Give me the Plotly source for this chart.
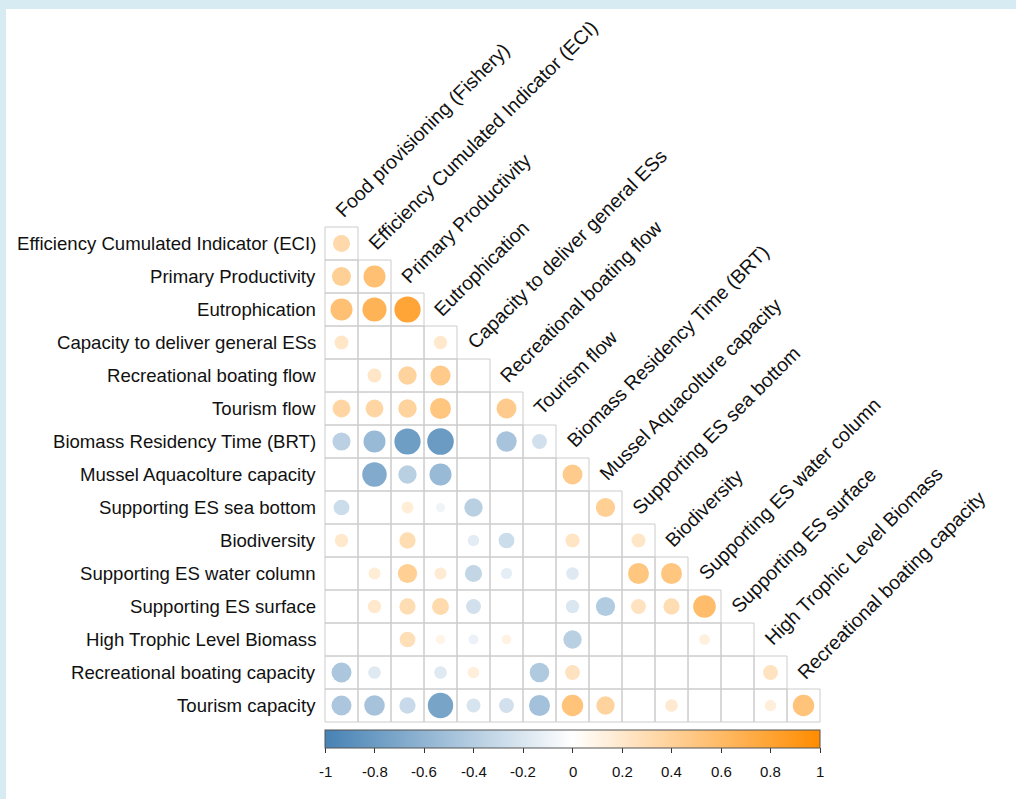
import math
import plotly.graph_objects as go

# Variable names (rows start at the 2nd variable, columns end at the 15th)
variables = [
    "Food provisioning (Fishery)",
    "Efficiency Cumulated Indicator (ECI)",
    "Primary Productivity",
    "Eutrophication",
    "Capacity to deliver general ESs",
    "Recreational boating flow",
    "Tourism flow",
    "Biomass Residency Time (BRT)",
    "Mussel Aquacolture capacity",
    "Supporting ES sea bottom",
    "Biodiversity",
    "Supporting ES water column",
    "Supporting ES surface",
    "High Trophic Level Biomass",
    "Recreational boating capacity",
    "Tourism capacity",
]

# Lower-triangle correlations, one list per row (None = not shown)
r_eci = [0.33]
r_pp = [0.41, 0.55]
r_eutro = [0.55, 0.66, 0.78]
r_capacity = [0.22, None, None, 0.20]
r_boat_flow = [None, 0.22, 0.38, 0.46, None]
r_tour_flow = [0.36, 0.36, 0.38, 0.50, None, 0.45]
r_brt = [-0.37, -0.55, -0.78, -0.80, None, -0.47, -0.25]
r_mussel = [None, -0.68, -0.38, -0.55, None, None, None, 0.45]
r_sea_bottom = [-0.28, None, 0.16, -0.09, -0.38, None, None, None, 0.42]
r_biodiv = [0.20, None, 0.30, None, -0.15, -0.28, None, 0.23, None, 0.22]
r_water_col = [None, 0.16, 0.42, 0.17, -0.33, -0.14, None, -0.18, None, 0.50, 0.50]
r_surface = [None, 0.20, 0.30, 0.32, -0.25, None, None, -0.20, -0.42, 0.25, 0.30, 0.58]
r_htl = [None, None, 0.28, 0.10, -0.11, 0.11, None, -0.38, None, None, None, 0.13, None]
r_boat_cap = [-0.45, -0.18, None, -0.18, 0.15, None, -0.43, 0.25, None, None, None, None, None, 0.25]
r_tour_cap = [-0.45, -0.48, -0.30, -0.73, -0.22, -0.25, -0.50, 0.52, 0.38, None, 0.18, None, None, 0.15, 0.52]

rows = [r_eci, r_pp, r_eutro, r_capacity, r_boat_flow, r_tour_flow, r_brt,
        r_mussel, r_sea_bottom, r_biodiv, r_water_col, r_surface, r_htl,
        r_boat_cap, r_tour_cap]

colorbar_ticks = [-1, -0.8, -0.6, -0.4, -0.2, 0, 0.2, 0.4, 0.6, 0.8, 1]

# ---- page geometry (pixels) ----
W, H = 1016, 799
CELL = 33.0
GX0, GY0 = 325.0, 227.0          # top-left corner of the grid
N = len(rows)
BAR_TOP, BAR_THICK, BAR_LEN = 730.0, 18.0, 495.0

FONT = "Liberation Sans, Arial, sans-serif"
ROW_LABEL_SIZE = 18.6
COL_LABEL_SIZE = 19.5

# axis ranges so that one unit == one cell
x_lo = 0.5 - GX0 / CELL
x_hi = 0.5 + (W - GX0) / CELL
y_top = 0.5 - GY0 / CELL
y_bot = 0.5 + (H - GY0) / CELL


def px_to_x(px):
    return 0.5 + (px - GX0) / CELL


def py_to_y(py):
    return 0.5 + (py - GY0) / CELL


# Arial advance widths (per 1000 em) used to place the rotated labels
ARIAL = {
    " ": 278, "(": 333, ")": 333, "A": 667, "B": 667, "C": 722, "D": 722,
    "E": 667, "F": 611, "G": 778, "H": 722, "I": 278, "L": 556, "M": 833,
    "P": 667, "R": 722, "S": 667, "T": 611, "a": 556, "b": 556, "c": 500,
    "d": 556, "e": 556, "f": 278, "g": 556, "h": 556, "i": 222, "j": 222,
    "k": 500, "l": 222, "m": 833, "n": 556, "o": 556, "p": 556, "q": 556,
    "r": 333, "s": 500, "t": 278, "u": 556, "v": 500, "w": 722, "x": 500,
    "y": 500, "z": 500,
}


def text_width(s, size):
    return sum(ARIAL.get(c, 556) for c in s) * size / 1000.0


# ---- circles ----
xs, ys, vals, sizes = [], [], [], []
for i, row in enumerate(rows):
    for j, v in enumerate(row):
        if v is None:
            continue
        xs.append(j + 1)
        ys.append(i + 1)
        vals.append(v)
        sizes.append(0.9 * math.sqrt(abs(v)) * CELL)

colorscale = [[0.0, "#4682B4"], [0.5, "#FFFFFF"], [1.0, "#FF8C00"]]

fig = go.Figure()
fig.add_trace(go.Scatter(
    x=xs, y=ys, mode="markers",
    marker=dict(
        size=sizes, color=vals, colorscale=colorscale, cmin=-1, cmax=1,
        line=dict(width=0), opacity=1,
        colorbar=dict(
            orientation="h",
            lenmode="pixels", len=BAR_LEN,
            thicknessmode="pixels", thickness=BAR_THICK,
            x=(GX0 + BAR_LEN / 2) / W, xanchor="center",
            y=1 - BAR_TOP / H, yanchor="top",
            xpad=0, ypad=0,
            outlinewidth=1, outlinecolor="#555555",
            ticks="outside", ticklen=5, tickcolor="#333333", tickwidth=1,
            tickvals=colorbar_ticks,
            showticklabels=False,
        ),
    ),
    hoverinfo="skip",
    showlegend=False,
))

shapes = []
# light blue frame on the left and top
shapes.append(dict(type="rect", xref="paper", yref="paper", x0=0, x1=6 / W,
                   y0=0, y1=1, fillcolor="#d7ebf2", line=dict(width=0), layer="below"))
shapes.append(dict(type="rect", xref="paper", yref="paper", x0=0, x1=1,
                   y0=1 - 9 / H, y1=1, fillcolor="#d7ebf2", line=dict(width=0), layer="below"))

# cell borders of the lower triangle
for i in range(N):
    for j in range(i + 1):
        shapes.append(dict(type="rect", xref="x", yref="y",
                           x0=j + 0.5, x1=j + 1.5, y0=i + 0.5, y1=i + 1.5,
                           line=dict(color="#cccccc", width=1), layer="below"))

annotations = []
# row labels on the left
for i in range(N):
    annotations.append(dict(
        x=px_to_x(GX0 - 7), y=i + 1, xref="x", yref="y",
        text=variables[i + 1], showarrow=False, xanchor="right", yanchor="middle",
        font=dict(family=FONT, size=ROW_LABEL_SIZE, color="#111111"),
    ))

# diagonal column labels, rotated 45 degrees
c45 = math.sqrt(0.5)
for k in range(N):
    label = variables[k]
    cx = GX0 + (k + 0.5) * CELL
    top = GY0 + k * CELL
    bx, by = cx + 2.0, top - 9.0               # baseline start of the text
    mid = 0.3465 * COL_LABEL_SIZE              # baseline -> box centre
    mx, my = bx - c45 * mid, by - c45 * mid
    half = text_width(label, COL_LABEL_SIZE) / 2
    ccx, ccy = mx + c45 * half, my - c45 * half
    annotations.append(dict(
        x=px_to_x(ccx), y=py_to_y(ccy), xref="x", yref="y",
        text=label, showarrow=False, textangle=-45,
        xanchor="center", yanchor="middle",
        font=dict(family=FONT, size=COL_LABEL_SIZE, color="#111111"),
    ))

# colour bar tick labels
for t in colorbar_ticks:
    annotations.append(dict(
        x=px_to_x(GX0 + (t + 1) / 2 * BAR_LEN), y=py_to_y(771), xref="x", yref="y",
        text="%g" % t, showarrow=False, xanchor="center", yanchor="middle",
        font=dict(family=FONT, size=15, color="#111111"),
    ))

fig.update_layout(
    width=W, height=H, autosize=False,
    margin=dict(l=0, r=0, t=0, b=0, pad=0),
    paper_bgcolor="#ffffff", plot_bgcolor="rgba(0,0,0,0)",
    xaxis=dict(range=[x_lo, x_hi], visible=False, showgrid=False,
               zeroline=False, fixedrange=True),
    yaxis=dict(range=[y_bot, y_top], visible=False, showgrid=False,
               zeroline=False, fixedrange=True),
    shapes=shapes,
    annotations=annotations,
    showlegend=False,
)

fig.write_html("out.html", config={"displayModeBar": False})
